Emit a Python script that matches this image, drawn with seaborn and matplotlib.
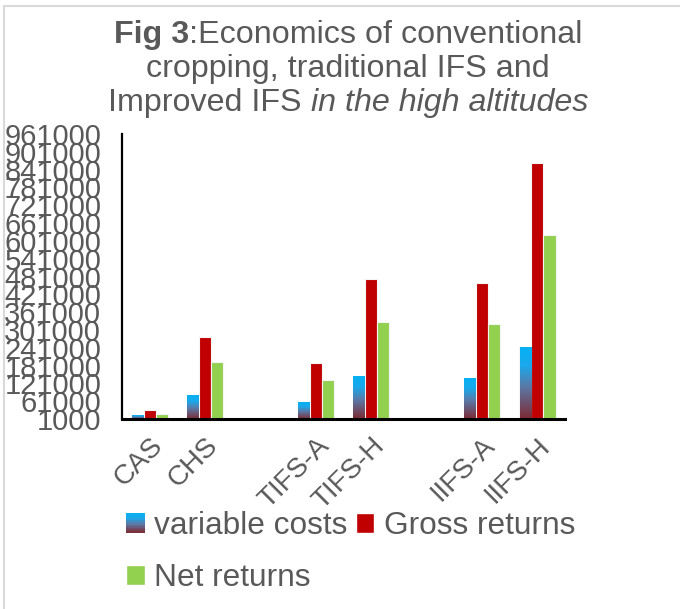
import numpy as np
import pandas as pd
import matplotlib
matplotlib.use('Agg')
import matplotlib.pyplot as plt
import seaborn as sns
from matplotlib.colors import LinearSegmentedColormap
from matplotlib.patches import Rectangle
from matplotlib.legend_handler import HandlerBase

# -----------------------------
# data
# -----------------------------
systems = ['CAS', 'CHS', 'TIFS-A', 'TIFS-H', 'IIFS-A', 'IIFS-H']
slots = ['CAS', 'CHS', ' ', 'TIFS-A', 'TIFS-H', '  ', 'IIFS-A', 'IIFS-H']
variable_costs = [14000, 81000, 55000, 145000, 139000, 243000]
gross_returns = [31000, 276000, 189000, 471000, 458000, 864000]
net_returns = [18000, 192000, 132000, 327000, 320000, 622000]
series = ['variable costs', 'Gross returns', 'Net returns']
y_ticks = list(range(1000, 961001, 60000))

df = pd.DataFrame({
    'system': systems * 3,
    'series': np.repeat(series, len(systems)),
    'value': variable_costs + gross_returns + net_returns,
})

grey = '#595959'
colors = {'variable costs': '#00B0F0', 'Gross returns': '#C00000', 'Net returns': '#92D050'}
grad = LinearSegmentedColormap.from_list(
    'vc', [(0, '#7d2a33'), (0.45, '#5b78a6'), (0.75, '#1aa9ec'), (1, '#05b1f2')])

sns.set_theme(style='white')
plt.rcParams['font.family'] = ['Liberation Sans', 'DejaVu Sans']
plt.rcParams['text.color'] = grey

fig = plt.figure(figsize=(6.8, 6.09), dpi=100)
ax = fig.add_axes([122 / 680, 1 - 419 / 609, 443 / 680, 285 / 609])

sns.barplot(data=df, x='system', y='value', hue='series', order=slots,
            hue_order=series, palette=colors, saturation=1, width=0.66, ax=ax,
            edgecolor='#f4f4f4', linewidth=0.8, legend=False)

# gradient fill on the variable cost bars
for bar in ax.containers[0]:
    x0, y0 = bar.get_x(), bar.get_y()
    w, h = bar.get_width(), bar.get_height()
    if np.isnan(h) or h == 0:
        continue
    ax.imshow(np.linspace(1, 0, 64).reshape(-1, 1), cmap=grad, aspect='auto',
              extent=(x0 + 0.01, x0 + w - 0.01, y0, y0 + h), zorder=bar.get_zorder() + 0.1,
              interpolation='bicubic')
ax.set_ylim(y_ticks[0], y_ticks[-1])
ax.set_xlim(-0.5, len(slots) - 0.5)

ax.set_yticks(y_ticks)
ax.set_yticklabels([str(v) for v in y_ticks], fontsize=21, color=grey)
ax.set_xticks(range(len(slots)))
ax.set_xticklabels([s.strip() for s in slots], fontsize=20, color=grey,
                   rotation=45, ha='right', rotation_mode='anchor')
ax.tick_params(axis='y', length=0, pad=15)
ax.tick_params(axis='x', length=0, pad=10)
ax.set_xlabel('')
ax.set_ylabel('')
for side in ['top', 'right']:
    ax.spines[side].set_visible(False)
ax.spines['left'].set_color('black')
ax.spines['left'].set_linewidth(1.6)
ax.spines['bottom'].set_color('black')
ax.spines['bottom'].set_linewidth(2.2)
ax.grid(False)


# legend with gradient swatch for variable costs
class GradientHandler(HandlerBase):
    def create_artists(self, legend, orig_handle, xdescent, ydescent,
                       width, height, fontsize, trans):
        n = 12
        arts = []
        for i in range(n):
            c = grad(1 - (i + 0.5) / n)
            arts.append(Rectangle((-xdescent, -ydescent + height * (1 - (i + 1) / n)),
                                  width, height / n + 0.3, facecolor=c,
                                  edgecolor='none', transform=trans))
        return arts


h_vc = Rectangle((0, 0), 1, 1, facecolor=colors['variable costs'])
h_gr = Rectangle((0, 0), 1, 1, facecolor=colors['Gross returns'])
h_nr = Rectangle((0, 0), 1, 1, facecolor=colors['Net returns'])
fig.legend([h_vc, h_nr, h_gr], ['variable costs', 'Net returns', 'Gross returns'],
           handler_map={h_vc: GradientHandler()}, ncol=2, loc='upper left',
           bbox_to_anchor=(98 / 680, 1 - 483 / 609), frameon=False,
           fontsize=22.8, handlelength=0.58, handleheight=0.58, handletextpad=0.3,
           columnspacing=0.25, labelspacing=0.68, labelcolor=grey)

# title with mixed bold / italic runs
title_lines = [
    [('Fig 3', 'bold', 'normal'), (':Economics of conventional', 'normal', 'normal')],
    [('cropping, traditional IFS and', 'normal', 'normal')],
    [('Improved IFS ', 'normal', 'normal'), ('in the high altitudes', 'normal', 'italic')],
]
baselines = [43, 77, 111]
cx = 348
renderer = fig.canvas.get_renderer()
for runs, base in zip(title_lines, baselines):
    texts = [fig.text(0, 1 - base / 609, s, fontsize=23.2, fontweight=wt, fontstyle=st,
                      color=grey, va='baseline', ha='left') for s, wt, st in runs]
    widths = [t.get_window_extent(renderer).width for t in texts]
    x = cx - sum(widths) / 2
    for t, w in zip(texts, widths):
        t.set_x(x / 680)
        x += w

# light grey chart frame
fig.patches.append(Rectangle((4 / 680, -0.1), 2, 1 - 6 / 609 + 0.1, transform=fig.transFigure,
                             facecolor='none', edgecolor='#d9d9d9', linewidth=1.5))

fig.savefig('out.png', dpi=100)
